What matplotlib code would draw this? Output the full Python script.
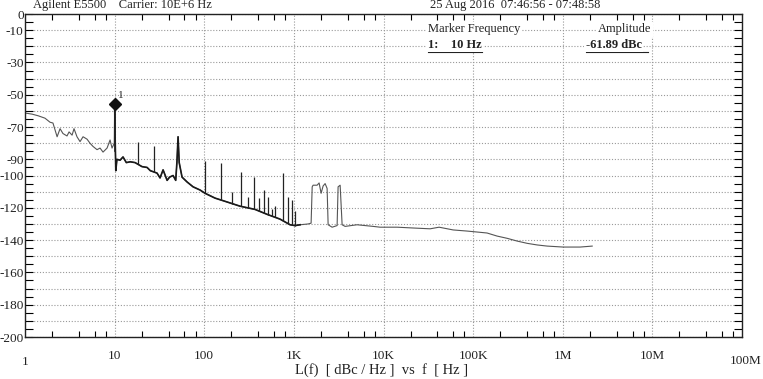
import numpy as np
import matplotlib
matplotlib.use("Agg")
import matplotlib.pyplot as plt
from matplotlib.ticker import FixedLocator, MultipleLocator, NullFormatter
from matplotlib.transforms import blended_transform_factory

plt.rcParams['font.family'] = ['Liberation Serif', 'DejaVu Serif']

# phase noise trace L(f)
trace_f = [1.0, 1.2, 1.4, 1.67, 1.9, 2.05, 2.28, 2.46, 2.65, 2.94, 3.1, 3.35, 3.52, 3.8,
           4.11, 4.44, 4.92, 5.31, 5.74, 6.36, 6.87, 7.42, 8.23, 8.89, 9.35, 9.9, 10.0,
           10.15, 10.3, 10.6, 11.5, 12.4, 13.5, 14.9, 16.9, 20.2, 23.0, 25.0, 29.7, 32.1,
           34.7, 38.5, 41.0, 44.9, 48.0, 49.5, 51.0, 52.5, 56.5, 64.3, 75.0, 89.8, 102.0,
           132.0, 171.0, 251.0, 369.0, 500.0, 700.0, 907.0, 1030.0, 1172.0, 1440.0, 1556.0,
           1600.0, 1638.0, 1815.0, 1911.0, 2012.0, 2118.0, 2230.0, 2347.0, 2410.0, 2670.0,
           3035.0, 3113.0, 3280.0, 3452.0, 3727.0, 5070.0, 7650.0, 9160.0, 14200.0, 21400.0,
           33100.0, 41700.0, 59800.0, 85700.0, 111000.0, 143000.0, 185000.0, 240000.0,
           310000.0, 401000.0, 518000.0, 670000.0, 1010000.0, 1560000.0, 2130000.0]
trace_db = [-61.3, -62.0, -63.0, -64.5, -67.0, -67.5, -76.0, -71.0, -74.0, -75.5, -73.0, -75.0, -71.0, -76.0,
            -79.0, -76.0, -77.5, -80.0, -82.0, -84.0, -83.0, -85.5, -83.0, -78.0, -83.0, -80.0, -56.0,
            -80.0, -97.0, -90.0, -90.5, -88.5, -92.0, -91.5, -92.0, -94.5, -95.0, -97.0, -98.5, -101.5,
            -96.5, -103.0, -101.0, -100.0, -103.0, -92.0, -76.0, -92.0, -101.0, -104.0, -107.0, -109.0, -111.0,
            -114.0, -116.0, -119.0, -121.0, -124.0, -127.0, -130.5, -131.0, -130.5, -130.0, -129.5,
            -107.0, -106.0, -106.0, -104.6, -111.0, -106.5, -105.0, -108.0, -130.5, -132.0,
            -131.0, -107.0, -106.0, -130.5, -131.5, -130.5, -131.5, -132.0, -132.0, -132.5,
            -133.0, -132.0, -133.7, -134.4, -135.0, -135.6, -137.5, -138.9,
            -140.6, -142.0, -143.0, -143.7, -144.3, -144.3, -143.7]

# discrete spurs sitting on the noise floor
spur_f = [18.2, 27.5, 102, 154, 204, 258, 308, 360, 409, 465, 515, 571, 617, 757, 861, 955, 1030]
spur_db = [-79, -82, -91, -92, -110, -98, -113, -101, -114, -109, -113, -121, -119, -98.5, -113, -115, -122]

marker_f = 10.0
marker_db = -56.0

y_ticks = list(range(0, -201, -10))
y_labels = ["0", "-10", "", "-30", "", "-50", "", "-70", "", "-90", "-100", "", "-120", "",
            "-140", "", "-160", "", "-180", "", "-200"]
x_ticks = [1, 10, 100, 1e3, 1e4, 1e5, 1e6, 1e7, 1e8]
x_labels = ["1", "10", "100", "1K", "10K", "100K", "1M", "10M", "100M"]

fig = plt.figure(figsize=(7.63, 3.79), dpi=100)
ax = fig.add_axes([0.0328, 0.1108, 0.9397, 0.8522])
ax.set_xscale("log")
ax.set_xlim(1, 1e8)
ax.set_ylim(-200, 0)

txt = "#222222"
ax.grid(True, which="major", color="#999999", linestyle=(0, (1, 1.6)), linewidth=0.8)

ax.plot(trace_f, trace_db, color="#555555", lw=0.8)
f = np.array(trace_f)
seg = (f >= 10.0) & (f <= 1172.0)
ax.plot(f[seg], np.array(trace_db)[seg], color="#1a1a1a", lw=1.2)
base = np.interp(np.log10(spur_f), np.log10(trace_f), trace_db)
ax.vlines(spur_f, base, spur_db, color="#222222", lw=0.9)

ax.plot([marker_f, marker_f], [-85, marker_db], color="#222222", lw=1.2)
ax.plot([marker_f], [marker_db], marker="D", color="#111111", markersize=6)
ax.text(11.0, -52, "1", fontsize=8, color=txt)

# axes styling
ax.yaxis.set_major_locator(FixedLocator(y_ticks))
ax.set_yticklabels(y_labels)
ax.yaxis.set_minor_locator(MultipleLocator(5))
ax.tick_params(axis="y", which="both", direction="in", left=True, right=True,
               length=6, width=0.8, pad=1, labelsize=9.5, labelcolor=txt)

ax.xaxis.set_major_locator(FixedLocator(x_ticks))
ax.set_xticklabels(["", "10", "100", "1K", "10K", "100K", "1M", "10M", ""])
ax.xaxis.set_minor_locator(FixedLocator([m * 10.0 ** d for d in range(8) for m in (2, 4, 6, 8)]))
ax.xaxis.set_minor_formatter(NullFormatter())
ax.tick_params(axis="x", which="major", direction="in", top=True, length=0, pad=9,
               labelsize=9.5, labelcolor=txt)
ax.tick_params(axis="x", which="minor", direction="in", top=True, length=4, width=0.8)

tr = blended_transform_factory(ax.transData, ax.transAxes)
ax.text(1, -0.06, x_labels[0], transform=tr, ha="center", va="top", fontsize=9.5, color=txt)
ax.text(1.1e8, -0.055, x_labels[-1], transform=tr, ha="center", va="top", fontsize=9.5, color=txt)

for s in ax.spines.values():
    s.set_linewidth(1.0)
    s.set_color("#222222")

fig.text(0.5, 0.005, "L(f)  [ dBc / Hz ]  vs  f  [ Hz ]", ha="center", va="bottom",
         fontsize=10.5, color=txt)
fig.text(0.043, 0.972, "Agilent E5500    Carrier: 10E+6 Hz", ha="left", va="bottom",
         fontsize=9, color=txt)
fig.text(0.564, 0.972, "25 Aug 2016  07:46:56 - 07:48:58", ha="left", va="bottom",
         fontsize=9, color=txt)

# marker readout
box = dict(facecolor="white", edgecolor="none", pad=1)
ax.text(0.562, 0.953, "Marker Frequency", transform=ax.transAxes, fontsize=9, color=txt,
        ha="left", va="center", bbox=box)
ax.text(0.799, 0.953, "Amplitude", transform=ax.transAxes, fontsize=9, color=txt,
        ha="left", va="center", bbox=box)
ax.text(0.562, 0.905, "1:    10 Hz", transform=ax.transAxes, fontsize=9, color=txt,
        ha="left", va="center", fontweight="bold", bbox=box)
ax.text(0.782, 0.905, "-61.89 dBc", transform=ax.transAxes, fontsize=9, color=txt,
        ha="left", va="center", fontweight="bold", bbox=box)
ax.plot([0.562, 0.638], [0.882, 0.882], transform=ax.transAxes, color=txt, lw=0.8)
ax.plot([0.782, 0.869], [0.882, 0.882], transform=ax.transAxes, color=txt, lw=0.8)

fig.savefig("out.png", dpi=100)
